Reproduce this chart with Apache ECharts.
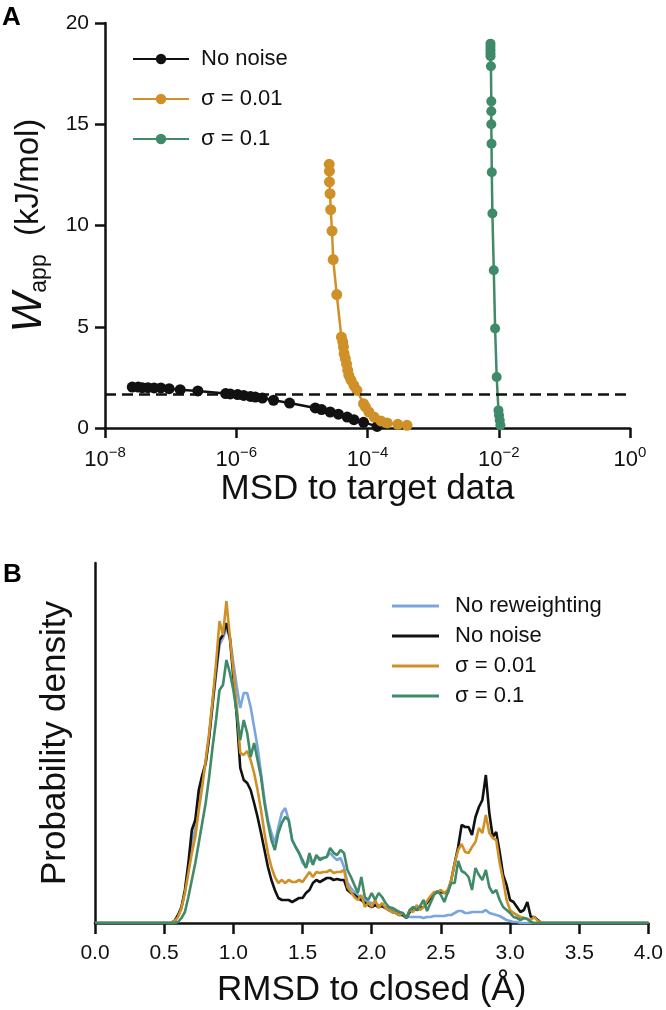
<!DOCTYPE html>
<html><head><meta charset="utf-8">
<script src="https://cdn.jsdelivr.net/npm/echarts@6/dist/echarts.min.js"></script>
<style>html,body{margin:0;padding:0;background:#fff}#c{width:666px;height:1010px}</style>
</head><body><div id="c"></div>
<script>
// ---------- Panel A data: MSD to target data (x) vs W_app kJ/mol (y) ----------
const msdNoNoise = [2.6e-8,3.2e-8,3.7e-8,4.5e-8,5.6e-8,7.1e-8,9.5e-8,1.4e-7,2.6e-7,6.9e-7,8.1e-7,1.05e-6,1.3e-6,1.65e-6,1.95e-6,2.5e-6,3.7e-6,6.5e-6,1.6e-5,2.0e-5,2.7e-5,3.6e-5,4.9e-5,6.2e-5,8.7e-5,1.4e-4];
const wNoNoise   = [2.02,2.02,1.99,1.99,1.98,1.98,1.94,1.89,1.83,1.70,1.68,1.65,1.61,1.56,1.53,1.48,1.37,1.23,0.99,0.91,0.79,0.68,0.54,0.41,0.28,0.08];
const msdS001 = [2.61e-5,2.63e-5,2.63e-5,2.69e-5,2.75e-5,2.88e-5,3.0e-5,3.4e-5,4.0e-5,4.2e-5,4.3e-5,4.4e-5,4.6e-5,4.8e-5,5.0e-5,5.2e-5,5.6e-5,6.2e-5,6.9e-5,8.7e-5,9.3e-5,1.05e-4,1.26e-4,1.6e-4,2.0e-4,2.9e-4,4.0e-4];
const wS001   = [13.02,12.68,12.15,11.57,10.78,9.73,8.32,6.59,4.49,4.25,4.0,3.67,3.43,3.15,2.85,2.60,2.36,2.11,1.86,1.20,1.04,0.79,0.54,0.35,0.25,0.18,0.13];
const msdS01 = [7.48e-3,7.48e-3,7.48e-3,7.48e-3,7.5e-3,7.6e-3,7.7e-3,7.7e-3,7.7e-3,7.76e-3,7.83e-3,8.0e-3,8.4e-3,8.8e-3,9.3e-3,9.9e-3,1.01e-2,1.035e-2,1.06e-2];
const wS01   = [18.98,18.82,18.65,18.49,18.36,17.86,16.13,15.64,15.0,14.04,12.63,10.59,7.79,4.91,2.52,0.87,0.63,0.38,0.13];
const thresholdW = 1.65;
const xTickValuesA = [1e-8,1e-6,1e-4,1e-2,1];

// ---------- Panel B data: RMSD to closed (Å) vs probability density ----------
const rmsd = [0,0.5,
0.55,0.575,0.6,0.625,0.65,0.675,0.7,0.725,0.75,0.775,
0.8,0.825,0.85,0.875,0.9,0.925,0.95,0.975,1.0,1.025,
1.05,1.075,1.1,1.125,1.15,1.175,1.2,1.225,1.25,1.275,
1.3,1.325,1.35,1.375,1.4,1.425,1.45,1.475,1.5,1.525,
1.55,1.575,1.6,1.625,1.65,1.675,1.7,1.725,1.75,1.775,
1.8,1.825,1.85,1.875,1.9,1.925,1.95,1.975,2.0,2.025,
2.05,2.075,2.1,2.125,2.15,2.175,2.2,2.225,2.25,2.275,
2.3,2.325,2.35,2.375,2.4,2.425,2.45,2.475,2.5,2.525,
2.55,2.575,2.6,2.625,2.65,2.675,2.7,2.725,2.75,2.775,
2.8,2.825,2.85,2.875,2.9,2.925,2.95,2.975,3.0,3.025,
3.05,3.075,3.1,3.125,3.15,3.175,3.2,3.225,3.25,
3.3,4.0];
const pNoReweight = [0,0,
0,0.02,0.07,0.15,0.31,0.55,0.80,0.95,1.20,1.42,
1.60,1.85,2.18,2.48,2.78,2.85,2.95,2.85,2.60,2.36,
2.15,2.30,2.30,2.16,1.96,1.76,1.50,1.23,1.03,0.90,
0.80,0.96,1.10,1.15,1.03,0.83,0.76,0.70,0.60,0.56,
0.63,0.60,0.66,0.65,0.65,0.66,0.70,0.66,0.63,0.65,
0.56,0.40,0.35,0.31,0.28,0.25,0.23,0.21,0.20,0.19,
0.18,0.17,0.16,0.15,0.13,0.11,0.10,0.08,0.06,0.06,
0.06,0.06,0.06,0.05,0.06,0.06,0.07,0.07,0.07,0.07,
0.08,0.08,0.10,0.12,0.12,0.10,0.10,0.11,0.11,0.11,
0.11,0.13,0.10,0.09,0.08,0.07,0.05,0.03,0.02,0.01,
0.01,0,0,0,0,0,0,0,0,
0,0];
const pNoNoise = [0,0,
0,0.02,0.08,0.16,0.33,0.60,0.93,1.03,1.33,1.48,
1.60,1.86,2.20,2.53,2.83,2.88,3.00,2.85,2.46,2.06,
1.55,1.43,1.40,1.33,1.20,1.06,0.90,0.73,0.56,0.43,
0.33,0.25,0.23,0.23,0.23,0.21,0.23,0.25,0.25,0.30,
0.33,0.40,0.43,0.41,0.43,0.45,0.45,0.43,0.44,0.43,
0.43,0.33,0.30,0.28,0.25,0.23,0.20,0.18,0.16,0.18,
0.16,0.17,0.15,0.13,0.11,0.10,0.08,0.08,0.05,0.11,
0.16,0.13,0.15,0.16,0.20,0.25,0.29,0.31,0.31,0.30,
0.30,0.43,0.60,0.76,0.98,0.96,0.96,0.88,1.06,1.16,
1.23,1.48,1.10,0.86,0.91,0.71,0.48,0.38,0.23,0.21,
0.16,0.11,0.13,0.21,0.06,0.06,0.03,0,0,
0,0];
const pSigma001 = [0,0,
0,0.02,0.06,0.15,0.30,0.50,0.70,0.86,1.13,1.36,
1.63,1.90,2.23,2.60,3.02,2.88,3.22,2.86,2.53,2.16,
1.70,1.68,1.72,1.63,1.50,1.33,1.13,0.90,0.70,0.56,
0.46,0.40,0.43,0.40,0.43,0.41,0.41,0.43,0.41,0.46,
0.51,0.46,0.51,0.50,0.51,0.51,0.53,0.50,0.51,0.51,
0.53,0.36,0.31,0.26,0.23,0.28,0.16,0.20,0.16,0.23,
0.15,0.20,0.15,0.13,0.11,0.10,0.08,0.10,0.05,0.13,
0.11,0.18,0.13,0.16,0.22,0.27,0.31,0.31,0.33,0.30,
0.33,0.43,0.60,0.73,0.79,0.71,0.70,0.76,0.81,0.95,
0.90,1.08,0.90,0.85,0.83,0.60,0.43,0.23,0.13,0.10,
0.08,0.06,0.05,0.04,0.03,0.06,0.02,0,0,
0,0];
const pSigma01 = [0,0,
0,0,0.01,0.05,0.11,0.26,0.43,0.60,0.80,1.00,
1.20,1.46,1.76,2.03,2.33,2.38,2.63,2.50,2.33,2.10,
1.83,2.03,1.90,1.66,1.80,1.63,1.46,1.20,1.00,0.83,
0.73,0.90,1.00,1.06,1.03,0.83,0.76,0.70,0.63,0.55,
0.70,0.58,0.68,0.63,0.65,0.66,0.75,0.70,0.68,0.73,
0.70,0.53,0.46,0.38,0.30,0.46,0.26,0.23,0.30,0.23,
0.30,0.26,0.20,0.16,0.15,0.13,0.11,0.10,0.05,0.13,
0.16,0.13,0.17,0.23,0.12,0.20,0.28,0.32,0.28,0.21,
0.31,0.40,0.40,0.62,0.52,0.50,0.46,0.33,0.55,0.48,
0.43,0.53,0.36,0.30,0.33,0.23,0.16,0.13,0.10,0.06,
0.05,0.03,0.05,0.04,0.01,0,0,0,0,
0,0];

// ---------- helpers ----------
const FONT = 'Liberation Sans, Arial, Helvetica, sans-serif';
const C_BLACK = '#111111', C_ORANGE = '#CF9127', C_GREEN = '#3F8A68', C_BLUE = '#7AA6DF';
function pairs(xs, ys){ return xs.map((x,i)=>[x, ys[i]]); }
function expLabel(v){
  const e = Math.round(Math.log10(v));
  const s = String(e).replace('-', '\u2212');
  return '{b|10}{s|' + s + '}';
}

const chart = echarts.init(document.getElementById('c'), null, {renderer:'canvas'});
const option = {
  animation: false,
  backgroundColor: '#fff',
  textStyle: {fontFamily: FONT},
  graphic: [
    {type:'text', left: 2, top: 5, style:{text:'A', font:'bold 26px ' + FONT, fill:'#000'}},
    {type:'text', left: 3, top: 562, style:{text:'B', font:'bold 26px ' + FONT, fill:'#000'}}
  ],
  grid: [
    {left: 103, right: 36, top: 23, height: 405},
    {left: 95, right: 15, top: 563, height: 360}
  ],
  xAxis: [
    {
      gridIndex: 0, type: 'log', logBase: 10, min: 1e-8, max: 1,
      name: 'MSD to target data', nameLocation: 'middle', nameGap: 37,
      nameTextStyle: {fontSize: 35, color: '#111', fontFamily: FONT},
      axisLine: {onZero: false, lineStyle: {color: '#111', width: 2.5}},
      axisTick: {show: true, length: 10, lineStyle: {width: 2.5, color:'#111'}, customValues: xTickValuesA},
      minorTick: {show: false},
      splitLine: {show: false},
      axisLabel: {
        customValues: xTickValuesA, margin: 17, color: '#111',
        formatter: expLabel,
        rich: {
          b: {fontSize: 22, fontFamily: FONT, color:'#111', lineHeight: 26, verticalAlign: 'bottom'},
          s: {fontSize: 15, fontFamily: FONT, color:'#111', lineHeight: 15, verticalAlign: 'top'}
        }
      }
    },
    {
      gridIndex: 1, type: 'value', min: 0, max: 4, interval: 0.5,
      name: 'RMSD to closed (Å)', nameLocation: 'middle', nameGap: 50,
      nameTextStyle: {fontSize: 35, color: '#111', fontFamily: FONT},
      axisLine: {onZero: false, lineStyle: {color: '#111', width: 2.5}},
      axisTick: {show: true, length: 11, lineStyle: {width: 2.5, color:'#111'}},
      splitLine: {show: false},
      axisLabel: {fontSize: 21, color: '#111', margin: 20, fontFamily: FONT,
        formatter: v => v.toFixed(1)}
    }
  ],
  yAxis: [
    {
      gridIndex: 0, type: 'value', min: 0, max: 20, interval: 5,
      name: '{w|W}{sub|app}{n|  (kJ/mol)}', nameLocation: 'middle', nameRotate: 90, nameGap: 54,
      nameTextStyle: {
        color: '#111',
        rich: {
          w: {fontSize: 42, fontStyle: 'italic', fontFamily: FONT, color:'#111', lineHeight: 44},
          sub: {fontSize: 23, fontFamily: FONT, color:'#111', lineHeight: 23, verticalAlign: 'bottom'},
          n: {fontSize: 33, fontFamily: FONT, color:'#111', lineHeight: 44}
        }
      },
      axisLine: {show: true, onZero: false, lineStyle: {color: '#111', width: 2.5}},
      axisTick: {show: true, length: 10, lineStyle: {width: 2.5, color:'#111'}},
      splitLine: {show: false},
      axisLabel: {fontSize: 21, color: '#111', margin: 16, fontFamily: FONT}
    },
    {
      gridIndex: 1, type: 'value', min: 0, max: 3.6,
      name: 'Probability density', nameLocation: 'middle', nameRotate: 90, nameGap: 22,
      nameTextStyle: {fontSize: 35, color: '#111', fontFamily: FONT},
      axisLine: {show: true, onZero: false, lineStyle: {color: '#111', width: 2.5}},
      axisTick: {show: false}, axisLabel: {show: false}, splitLine: {show: false}
    }
  ],
  legend: [
    {
      data: ['No noise', 'σ = 0.01', 'σ = 0.1'],
      orient: 'vertical', left: 127, top: 43,
      itemWidth: 56, itemHeight: 13, itemGap: 18,
      textStyle: {fontSize: 22, color: '#111', fontFamily: FONT, lineHeight: 22, padding: [0,0,0,7]}
    },
    {
      data: ['B:No reweighting', 'B:No noise', 'B:σ = 0.01', 'B:σ = 0.1'],
      orient: 'vertical', left: 387, top: 590,
      icon: 'rect', itemWidth: 47, itemHeight: 3, itemGap: 8,
      formatter: n => n.slice(2),
      textStyle: {fontSize: 22, color: '#111', fontFamily: FONT, lineHeight: 22, padding: [0,0,0,11]}
    }
  ],
  series: [
    {
      name: 'No noise', type: 'line', xAxisIndex: 0, yAxisIndex: 0,
      data: pairs(msdNoNoise, wNoNoise), symbol: 'circle', symbolSize: 11, showAllSymbol: true,
      color: C_BLACK, lineStyle: {width: 2.5, color: C_BLACK}, itemStyle: {color: C_BLACK}, z: 3,
      markLine: {
        silent: true, symbol: ['none','none'], label: {show: false},
        lineStyle: {type: [11, 6], color: '#111', width: 2.5},
        data: [{yAxis: thresholdW}]
      }
    },
    {
      name: 'σ = 0.01', type: 'line', xAxisIndex: 0, yAxisIndex: 0,
      data: pairs(msdS001, wS001), symbol: 'circle', symbolSize: 11, showAllSymbol: true,
      color: C_ORANGE, lineStyle: {width: 2.5, color: C_ORANGE}, itemStyle: {color: C_ORANGE}, z: 4
    },
    {
      name: 'σ = 0.1', type: 'line', xAxisIndex: 0, yAxisIndex: 0,
      data: pairs(msdS01, wS01), symbol: 'circle', symbolSize: 10, showAllSymbol: true,
      color: C_GREEN, lineStyle: {width: 2.5, color: C_GREEN}, itemStyle: {color: C_GREEN}, z: 4
    },
    {
      name: 'B:No reweighting', type: 'line', xAxisIndex: 1, yAxisIndex: 1,
      data: pairs(rmsd, pNoReweight), symbol: 'none', showSymbol: false,
      color: C_BLUE, lineStyle: {width: 2.6, color: C_BLUE}, itemStyle: {color: C_BLUE}, z: 2
    },
    {
      name: 'B:No noise', type: 'line', xAxisIndex: 1, yAxisIndex: 1,
      data: pairs(rmsd, pNoNoise), symbol: 'none', showSymbol: false,
      color: C_BLACK, lineStyle: {width: 2.6, color: C_BLACK}, itemStyle: {color: C_BLACK}, z: 3
    },
    {
      name: 'B:σ = 0.01', type: 'line', xAxisIndex: 1, yAxisIndex: 1,
      data: pairs(rmsd, pSigma001), symbol: 'none', showSymbol: false,
      color: C_ORANGE, lineStyle: {width: 2.6, color: C_ORANGE}, itemStyle: {color: C_ORANGE}, z: 4
    },
    {
      name: 'B:σ = 0.1', type: 'line', xAxisIndex: 1, yAxisIndex: 1,
      data: pairs(rmsd, pSigma01), symbol: 'none', showSymbol: false,
      color: C_GREEN, lineStyle: {width: 2.6, color: C_GREEN}, itemStyle: {color: C_GREEN}, z: 5
    }
  ]
};
chart.setOption(option);
</script></body></html>
